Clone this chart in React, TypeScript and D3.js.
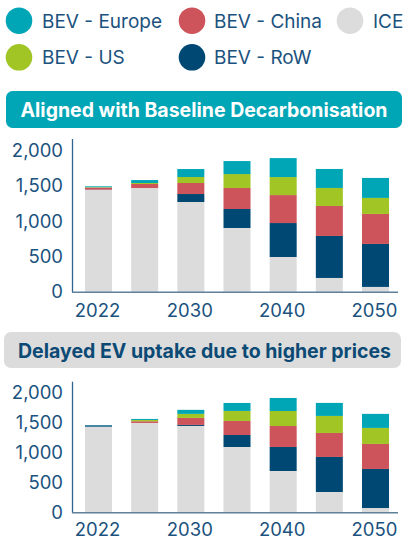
import React from "react";
import * as d3 from "d3";

const years = ["2022", "2025", "2030", "2035", "2040", "2045", "2050"];
const yearLabels = ["2022", "2030", "2040", "2050"];
const seriesKeys = ["ICE", "RoW", "China", "US", "Europe"];
const seriesNames = ["ICE", "BEV - RoW", "BEV - China", "BEV - US", "BEV - Europe"];
const seriesColors = ["#dcdcdc", "#004874", "#cd545b", "#a0c524", "#00a6b6"];

// Aligned with Baseline Decarbonisation
const baseICE = [1450, 1477, 1279, 911, 500, 203, 76];
const baseRoW = [4, 0, 113, 269, 481, 595, 609];
const baseChina = [30, 57, 156, 297, 396, 425, 425];
const baseUS = [5, 14, 85, 198, 255, 255, 227];
const baseEurope = [12, 42, 113, 184, 269, 269, 283];

// Delayed EV uptake due to higher prices
const delayICE = [1434, 1496, 1446, 1095, 695, 345, 78];
const delayRoW = [22, 0, 17, 200, 400, 584, 651];
const delayChina = [0, 28, 117, 234, 350, 400, 417];
const delayUS = [0, 22, 67, 167, 250, 284, 267];
const delayEurope = [4, 17, 67, 133, 217, 217, 234];

const yTicks = [0, 500, 1000, 1500, 2000];

const FONT = "Inter, 'Noto Sans', sans-serif";
const TEXT_BLUE = "#1b527e";

type Row = { year: string; [k: string]: number | string };

function buildRows(ice: number[], row: number[], china: number[], us: number[], eu: number[]): Row[] {
  return years.map((y, i) => ({
    year: y,
    ICE: ice[i],
    RoW: row[i],
    China: china[i],
    US: us[i],
    Europe: eu[i],
  }));
}

function Chart({ rows, y0, y2000, axisTop, labelY }: { rows: Row[]; y0: number; y2000: number; axisTop: number; labelY: number }) {
  const x = d3
    .scaleBand<string>()
    .domain(years)
    .range([75.4, 398.6])
    .paddingInner(0.415)
    .paddingOuter(0.2075);
  const y = d3.scaleLinear().domain([0, 2000]).range([y0, y2000]);
  const stack = d3.stack<Row>().keys(seriesKeys).value((d, k) => d[k] as number);
  const layers = stack(rows);
  return (
    <g>
      {layers.map((layer, li) => (
        <g key={layer.key} fill={seriesColors[li]}>
          {layer.map((d, i) => {
            const h = y(d[0]) - y(d[1]);
            if (h <= 0) return null;
            return (
              <rect
                key={i}
                x={x(rows[i].year)}
                width={x.bandwidth()}
                y={y(d[1])}
                height={h}
              />
            );
          })}
        </g>
      ))}
      <line x1={72.5} x2={72.5} y1={axisTop} y2={y0} stroke="#2f6590" strokeWidth={1.3} />
      <line x1={72} x2={398} y1={y0} y2={y0} stroke="#5f8099" strokeWidth={1.5} />
      {yTicks.map((t) => (
        <text
          key={t}
          x={63}
          y={y(t) - 1}
          textAnchor="end"
          dominantBaseline="central"
          fontFamily={FONT}
          fontSize={18.5}
          fill={TEXT_BLUE}
        >
          {d3.format(",")(t)}
        </text>
      ))}
      {yearLabels.map((yl) => (
        <text
          key={yl}
          x={(x(yl) as number) + x.bandwidth() / 2 - 1}
          y={labelY}
          textAnchor="middle"
          dominantBaseline="central"
          fontFamily={FONT}
          fontSize={18.5}
          fill={TEXT_BLUE}
        >
          {yl}
        </text>
      ))}
    </g>
  );
}

const legendItems = [
  { name: "BEV - Europe", color: seriesColors[4], cx: 19, cy: 20.7, tx: 42 },
  { name: "BEV - China", color: seriesColors[2], cx: 192, cy: 20.7, tx: 214 },
  { name: "ICE", color: seriesColors[0], cx: 350, cy: 20.7, tx: 373 },
  { name: "BEV - US", color: seriesColors[3], cx: 19, cy: 57.3, tx: 42 },
  { name: "BEV - RoW", color: seriesColors[1], cx: 192, cy: 57.3, tx: 214 },
];

export default function App() {
  const baseRows = buildRows(baseICE, baseRoW, baseChina, baseUS, baseEurope);
  const delayRows = buildRows(delayICE, delayRoW, delayChina, delayUS, delayEurope);
  return (
    <svg
      width={403}
      height={539}
      style={{ position: "absolute", left: 0, top: 0, background: "#fff" }}
    >
      {legendItems.map((it) => (
        <g key={it.name}>
          <circle cx={it.cx} cy={it.cy} r={13.3} fill={it.color} />
          <text
            x={it.tx}
            y={it.cy + 0.5}
            dominantBaseline="central"
            fontFamily={FONT}
            fontSize={19}
            fill={TEXT_BLUE}
          >
            {it.name}
          </text>
        </g>
      ))}

      <rect x={6} y={91} width={396} height={37} rx={6.5} fill="#00a6b6" />
      <text
        x={204}
        y={110}
        textAnchor="middle"
        dominantBaseline="central"
        fontFamily={FONT}
        fontWeight={700}
        fontSize={19.5}
        fill="#ffffff"
      >
        Aligned with Baseline Decarbonisation
      </text>

      <Chart rows={baseRows} y0={292.3} y2000={151.1} axisTop={139} labelY={310} />

      <rect x={4} y={332} width={397} height={36} rx={7} fill="#dcdcdc" />
      <text
        x={204.5}
        y={351}
        textAnchor="middle"
        dominantBaseline="central"
        fontFamily={FONT}
        fontWeight={700}
        fontSize={19.5}
        fill="#0b4a75"
      >
        Delayed EV uptake due to higher prices
      </text>

      <Chart rows={delayRows} y0={512.7} y2000={392.7} axisTop={381.7} labelY={528.5} />
    </svg>
  );
}
